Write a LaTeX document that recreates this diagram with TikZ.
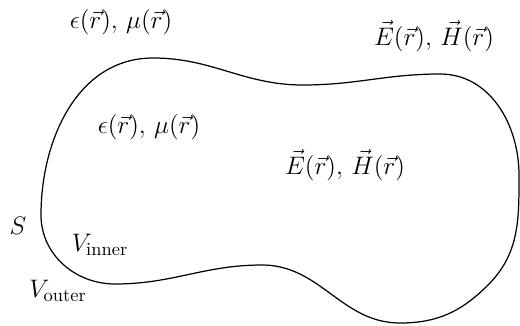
\documentclass[tikz,border=0pt]{standalone}
\usepackage{amsmath,amssymb,tikz}

\begin{document}
\begin{tikzpicture}[x=0.02cm, y=0.02cm, font=\fontsize{15}{18}\selectfont]
	\useasboundingbox (0,0) rectangle (520,325);

	\coordinate (l) at (41,110);
	\coordinate (t) at (153,267);
	\coordinate (d) at (303,240);
	\coordinate (p) at (440,251);
	\coordinate (r) at (519,150);
	\coordinate (q) at (488,40);
	\coordinate (b) at (400,2);
	\coordinate (m) at (262,60);
	\coordinate (bl) at (115,41);

	% boundary surface S
	\draw [line width=0.7pt] (l) to [out=90, in=180] (t)
		to [out=0, in=180] (d)
		to [out=0, in=180] (p)
		to [out=0, in=90] (r)
		to [out=-90, in=45] (q)
		to [out=225, in=0] (b)
		to [out=180, in=0] (m)
		to [out=180, in=0] (bl)
		to [out=180, in=-90] (l);

	% outside
	\node (epsout) at (121,303) {$\epsilon(\vec{r}),\, \mu(\vec{r})$};
	\node (fldout) at (434,289) {$\vec{E}(\vec{r}),\, \vec{H}(\vec{r})$};
	\node (vout) at (58,34) {$V_{\text{outer}}$};
	\node (lblS) at (18,99) {$S$};

	% inside
	\node (epsin) at (149,198) {$\epsilon(\vec{r}),\, \mu(\vec{r})$};
	\node (fldin) at (345,160) {$\vec{E}(\vec{r}),\, \vec{H}(\vec{r})$};
	\node (vin) at (100,80) {$V_{\text{inner}}$};
\end{tikzpicture}
\end{document}
